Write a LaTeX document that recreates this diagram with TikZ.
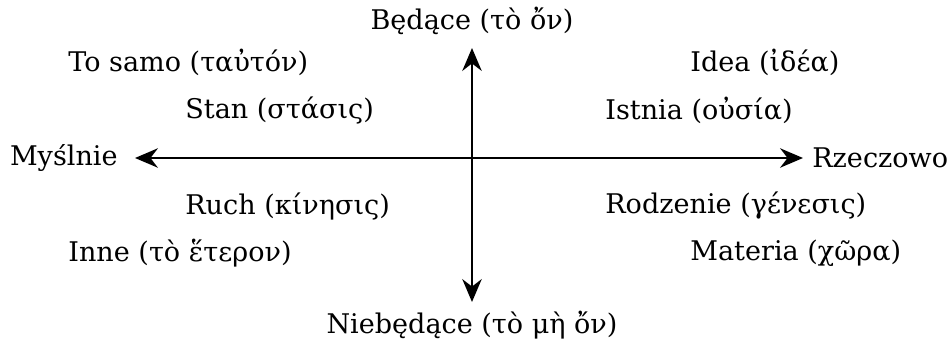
\documentclass[tikz,border=0pt]{standalone}
\usepackage{fontspec}
\setmainfont{DejaVu Serif}
\usetikzlibrary{arrows.meta}

\begin{document}
\begin{tikzpicture}[x=0.02cm, y=-0.02cm, every node/.style={font=\fontsize{15.4}{18}\selectfont, inner sep=0pt}]
\useasboundingbox (0,0) rectangle (951,342);
\tikzset{axis/.style={line width=1.5pt, {Stealth[length=13pt,width=11pt]}-{Stealth[length=13pt,width=11pt]}}}

\coordinate (west) at (135,158);
\coordinate (east) at (803,158);
\coordinate (north) at (472,48);
\coordinate (south) at (472,302);

\draw[axis] (west) -- (east);
\draw[axis] (north) -- (south);

\node (being) at (472,21) {Będące (τὸ ὄν)};
\node (nonbeing) at (472,325) {Niebędące (τὸ μὴ ὄν)};
\node[anchor=east] (mental) at (118,158) {Myślnie};
\node[anchor=west] (real) at (812,158) {Rzeczowo};

\node[anchor=west] (same) at (68,62) {To samo (ταὐτόν)};
\node[anchor=west] (rest) at (185,110) {Stan (στάσις)};
\node[anchor=west] (idea) at (690,62) {Idea (ἰδέα)};
\node[anchor=west] (essence) at (605,110) {Istnia (οὐσία)};

\node[anchor=west] (motion) at (185,206) {Ruch (κίνησις)};
\node[anchor=west] (becoming) at (605,206) {Rodzenie (γένεσις)};
\node[anchor=west] (other) at (68,253) {Inne (τὸ ἕτερον)};
\node[anchor=west] (matter) at (690,253) {Materia (χῶρα)};
\end{tikzpicture}
\end{document}
